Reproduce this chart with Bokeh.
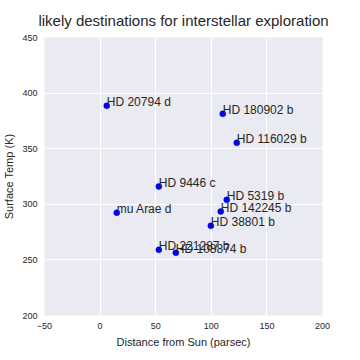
from bokeh.plotting import figure
from bokeh.models import ColumnDataSource, Range1d, FixedTicker
from bokeh.core.properties import value
from bokeh.embed import file_html
from bokeh.resources import INLINE

names = ["HD 20794 d", "HD 180902 b", "HD 116029 b", "HD 9446 c", "HD 5319 b",
         "HD 142245 b", "mu Arae d", "HD 38801 b", "HD 221287 b", "HD 108874 b"]
distance = [6.0, 110.3, 122.9, 52.8, 113.9, 108.5, 15.0, 99.6, 52.8, 68.1]
temp = [388.6, 381.4, 355.3, 316.0, 304.0, 293.5, 292.4, 280.7, 259.1, 256.4]
x_ticks = [-50, 0, 50, 100, 150, 200]
y_ticks = [200, 250, 300, 350, 400, 450]

src = ColumnDataSource(dict(x=distance, y=temp, name=names))
FONT = "Liberation Sans"
TXT = "#262626"

p = figure(frame_width=278, frame_height=278, output_backend="svg", toolbar_location=None,
           x_range=Range1d(-50, 200), y_range=Range1d(200, 450),
           min_border_left=38, min_border_right=28, min_border_top=33, min_border_bottom=37,
           title="likely destinations for interstellar exploration")
p.title.text_font = FONT
p.title.text_font_size = "15px"
p.title.text_font_style = "normal"
p.title.text_color = TXT
p.title.align = "center"
p.title.offset = 0
p.title.standoff = 18

p.background_fill_color = "#EAEAF2"
p.border_fill_color = "white"
p.outline_line_color = None

for ax, t in ((p.xaxis, x_ticks), (p.yaxis, y_ticks)):
    ax.ticker = FixedTicker(ticks=t)
    ax.axis_line_color = None
    ax.major_tick_line_color = None
    ax.minor_tick_line_color = None
    ax.major_tick_out = 0
    ax.major_tick_in = 0
    ax.minor_tick_out = 0
    ax.minor_tick_in = 0
    ax.major_label_text_font = FONT
    ax.major_label_text_font_size = "9px"
    ax.major_label_text_color = TXT
    ax.axis_label_text_font = FONT
    ax.axis_label_text_font_size = "11px"
    ax.axis_label_text_font_style = "normal"
    ax.axis_label_text_color = TXT
    ax.major_label_standoff = 7
    ax.axis_label_standoff = 4

p.xaxis.axis_label = "Distance from Sun (parsec)"
p.yaxis.axis_label = "Surface Temp (K)"
p.xgrid.ticker = FixedTicker(ticks=x_ticks)
p.ygrid.ticker = FixedTicker(ticks=y_ticks)
p.grid.grid_line_color = "white"
p.grid.grid_line_width = 1

p.scatter("x", "y", source=src, size=6, fill_color="#0000FF", line_color="#0000AA", line_width=0.5)
p.text("x", "y", text="name", source=src, text_font=value(FONT), text_font_size="12px",
       text_color=TXT, text_align="left", text_baseline="bottom", y_offset=3)

open("out.html", "w").write(file_html(p, INLINE))
